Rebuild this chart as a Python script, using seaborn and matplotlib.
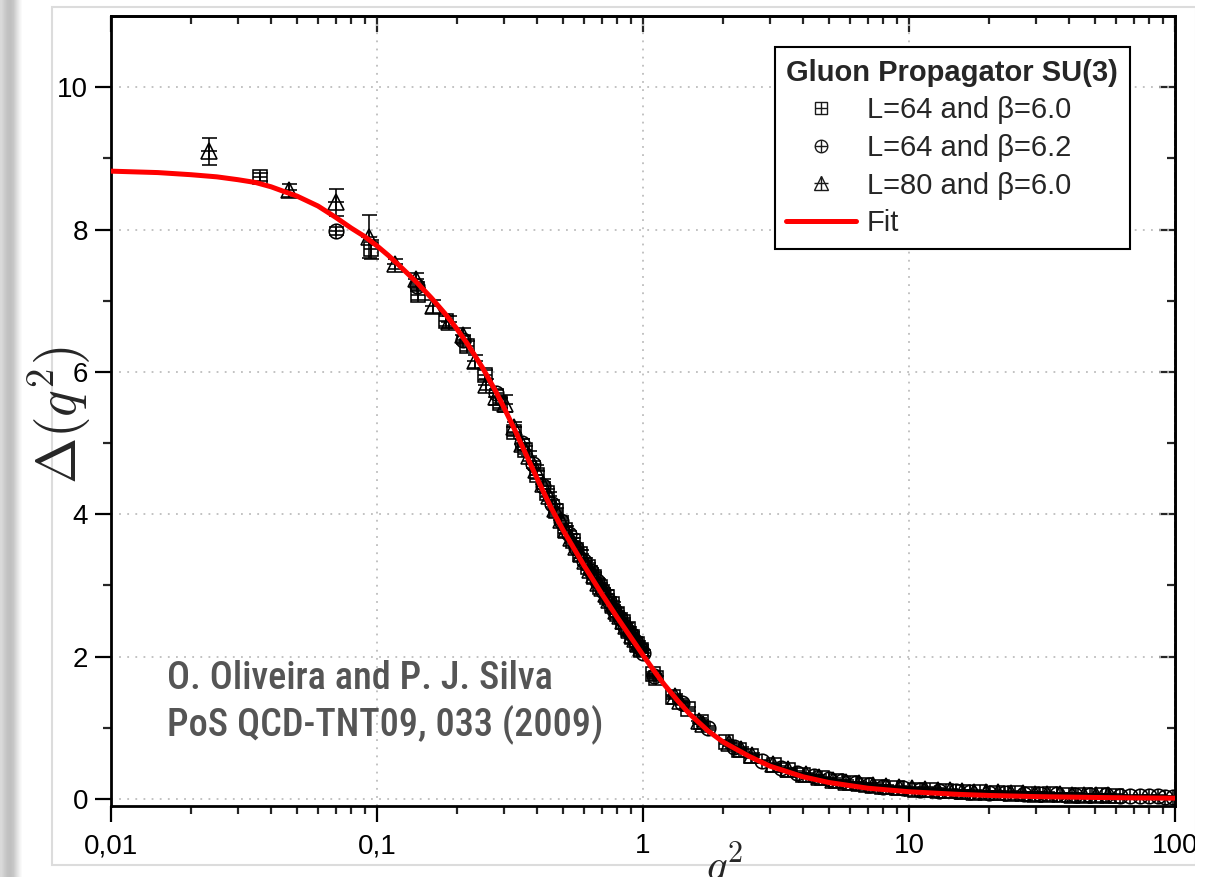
import numpy as np
import pandas as pd
import matplotlib
matplotlib.use("Agg")
import matplotlib.pyplot as plt
import seaborn as sns
from matplotlib.lines import Line2D
from matplotlib.legend_handler import HandlerTuple
from matplotlib.patches import Rectangle
from matplotlib import font_manager
from matplotlib.ticker import NullFormatter, LogLocator

# ---------------- data ----------------
# L=80, beta=6.0 (triangles)
tri_q2 = [0.0233, 0.0466, 0.0700, 0.0933, 0.117, 0.140, 0.163, 0.186, 0.210, 0.233,
          0.256, 0.280, 0.303, 0.326, 0.350, 0.373, 0.396, 0.420, 0.443, 0.466,
          0.490, 0.513, 0.536, 0.560, 0.583, 0.606, 0.630, 0.653, 0.676, 0.700,
          0.723, 0.746, 0.770, 0.793, 0.816, 0.840, 0.863, 0.886, 0.910, 0.933,
          0.956, 0.980, 1.32, 1.38, 1.62, 1.68, 2.10, 2.33, 2.56, 3.08,
          3.50, 4.10, 4.6, 5.2, 5.8, 6.5, 7.3, 8.2, 9.2, 10.3,
          11.5, 12.8, 14.2, 15.8, 17.5, 19.5, 21.7, 24.1, 26.8, 29.8,
          33.1, 36.8, 40.9, 45.4, 50.5, 56.1]
tri_D = [9.10, 8.55, 8.38, 7.90, 7.52, 7.31, 6.92, 6.70, 6.52, 6.15,
         5.82, 5.64, 5.55, 5.22, 4.98, 4.82, 4.62, 4.42, 4.25, 4.08,
         3.92, 3.78, 3.66, 3.54, 3.44, 3.34, 3.22, 3.14, 3.04, 2.96,
         2.88, 2.80, 2.72, 2.64, 2.57, 2.50, 2.43, 2.37, 2.30, 2.24,
         2.18, 2.12, 1.45, 1.38, 1.10, 1.05, 0.78, 0.70, 0.62, 0.49,
         0.42, 0.35, 0.31, 0.27, 0.24, 0.22, 0.20, 0.18, 0.16, 0.15,
         0.14, 0.13, 0.12, 0.11, 0.10, 0.095, 0.09, 0.085, 0.08, 0.075,
         0.07, 0.065, 0.06, 0.055, 0.05, 0.05]
tri_err = [0.19, 0.09, 0.19, 0.30, 0.07, 0.08, 0.09, 0.09, 0.10, 0.09,
           0.08, 0.10, 0.12, 0.08, 0.08, 0.07, 0.07, 0.07, 0.06, 0.06,
           0.06, 0.06, 0.06, 0.05, 0.05, 0.05, 0.05, 0.05, 0.05, 0.05,
           0.05, 0.04, 0.04, 0.04, 0.04, 0.04, 0.04, 0.04, 0.04, 0.04,
           0.04, 0.04, 0.03, 0.03, 0.03, 0.03, 0.03, 0.03, 0.03, 0.02,
           0.02, 0.02, 0.02, 0.02, 0.02, 0.02, 0.02, 0.02, 0.02, 0.02,
           0.02, 0.02, 0.02, 0.02, 0.02, 0.02, 0.02, 0.02, 0.02, 0.02,
           0.02, 0.02, 0.02, 0.02, 0.02, 0.02]

# L=64, beta=6.0 (squares)
sq_q2 = [0.0364, 0.0946, 0.143, 0.182, 0.218, 0.255, 0.29, 0.327, 0.36, 0.40,
         0.436, 0.47, 0.51, 0.545, 0.58, 0.62, 0.655, 0.69, 0.73, 0.764,
         0.80, 0.84, 0.875, 0.91, 0.95, 0.985, 1.09, 1.12, 1.30, 1.47,
         1.65, 2.05, 2.30, 2.55, 3.1, 3.5, 4.0, 4.7, 5.3, 6.0,
         6.9, 7.9, 9.0, 10.5, 12.0, 13.8, 16.0, 18.5, 21.5, 25.0,
         29.0, 34.0, 40.0, 46.0, 53.0, 60.0]
sq_D = [8.74, 7.72, 7.08, 6.72, 6.36, 5.95, 5.56, 5.16, 4.90, 4.55,
        4.30, 4.04, 3.78, 3.62, 3.44, 3.26, 3.12, 2.98, 2.84, 2.74,
        2.60, 2.48, 2.38, 2.28, 2.18, 2.09, 1.75, 1.70, 1.43, 1.26,
        1.08, 0.80, 0.68, 0.60, 0.47, 0.40, 0.34, 0.29, 0.25, 0.22,
        0.19, 0.17, 0.15, 0.13, 0.12, 0.11, 0.10, 0.09, 0.085, 0.08,
        0.07, 0.065, 0.06, 0.055, 0.05, 0.045]
sq_err = [0.06, 0.13, 0.07, 0.07, 0.07, 0.07, 0.07, 0.06, 0.06, 0.06,
          0.06, 0.05, 0.05, 0.05, 0.05, 0.05, 0.05, 0.05, 0.04, 0.04,
          0.04, 0.04, 0.04, 0.04, 0.04, 0.04, 0.03, 0.03, 0.03, 0.03,
          0.03, 0.03, 0.03, 0.03, 0.02, 0.02, 0.02, 0.02, 0.02, 0.02,
          0.02, 0.02, 0.02, 0.02, 0.02, 0.02, 0.02, 0.02, 0.02, 0.02,
          0.02, 0.02, 0.02, 0.02, 0.02, 0.02]

# L=64, beta=6.2 (circles)
ci_q2 = [0.0703, 0.141, 0.211, 0.28, 0.35, 0.385, 0.42, 0.455, 0.49, 0.525,
         0.56, 0.60, 0.635, 0.67, 0.71, 0.745, 0.78, 0.82, 0.855, 0.89,
         0.93, 0.965, 1.0, 1.10, 1.40, 1.75, 2.2, 2.8, 3.3, 3.8,
         4.4, 5.0, 5.6, 6.3, 7.1, 8.0, 9.5, 11.0, 13.0, 15.0,
         17.0, 20.0, 23.0, 27.0, 31.0, 36.0, 42.0, 48.0, 55.0, 62.0,
         68.0, 74.0, 80.0, 86.0, 92.0, 98.0]
ci_D = [7.98, 7.20, 6.45, 5.70, 5.00, 4.70, 4.40, 4.15, 3.90, 3.72,
        3.52, 3.34, 3.20, 3.06, 2.92, 2.78, 2.66, 2.54, 2.42, 2.33,
        2.22, 2.13, 2.05, 1.73, 1.35, 1.00, 0.73, 0.53, 0.44, 0.37,
        0.32, 0.28, 0.25, 0.22, 0.20, 0.17, 0.15, 0.13, 0.115, 0.105,
        0.095, 0.085, 0.08, 0.075, 0.07, 0.065, 0.06, 0.055, 0.05, 0.045,
        0.04, 0.04, 0.035, 0.035, 0.03, 0.03]
ci_err = [0.06, 0.06, 0.06, 0.06, 0.06, 0.05, 0.05, 0.05, 0.05, 0.05,
          0.05, 0.05, 0.05, 0.04, 0.04, 0.04, 0.04, 0.04, 0.04, 0.04,
          0.04, 0.04, 0.04, 0.03, 0.03, 0.03, 0.03, 0.02, 0.02, 0.02,
          0.02, 0.02, 0.02, 0.02, 0.02, 0.02, 0.02, 0.02, 0.02, 0.02,
          0.02, 0.02, 0.02, 0.02, 0.02, 0.02, 0.02, 0.02, 0.02, 0.015,
          0.015, 0.015, 0.015, 0.015, 0.015, 0.015]

# Fit curve
fit_q2 = [0.01, 0.015, 0.02, 0.025, 0.03, 0.035, 0.04, 0.045, 0.05, 0.06,
          0.07, 0.08, 0.09, 0.1, 0.11, 0.12, 0.14, 0.16, 0.18, 0.2,
          0.22, 0.25, 0.28, 0.3, 0.33, 0.35, 0.4, 0.45, 0.5, 0.6,
          0.7, 0.8, 0.9, 1.0, 1.1, 1.2, 1.35, 1.5, 1.75, 2.0,
          2.5, 3.0, 4.0, 5.0, 7.0, 10.0, 15.0, 20.0, 30.0, 50.0,
          70.0, 100.0]
fit_D = [8.82, 8.80, 8.77, 8.74, 8.70, 8.66, 8.60, 8.53, 8.47, 8.33,
         8.17, 8.02, 7.90, 7.77, 7.64, 7.51, 7.27, 7.04, 6.82, 6.60,
         6.38, 6.05, 5.72, 5.50, 5.18, 4.97, 4.50, 4.10, 3.78, 3.28,
         2.88, 2.55, 2.27, 2.02, 1.80, 1.61, 1.38, 1.19, 0.96, 0.80,
         0.60, 0.46, 0.31, 0.23, 0.15, 0.10, 0.065, 0.048, 0.032, 0.02,
         0.014, 0.01]

series_labels = ["L=64 and β=6.0", "L=64 and β=6.2", "L=80 and β=6.0"]
fit_label = "Fit"
legend_title = "Gluon Propagator SU(3)"
x_ticks = [0.01, 0.1, 1, 10, 100]
x_tick_labels = ["0,01", "0,1", "1", "10", "100"]
y_ticks = [0, 2, 4, 6, 8, 10]
y_minor = [1, 3, 5, 7, 9]
note_lines = ["O. Oliveira and P. J. Silva", "PoS QCD-TNT09, 033 (2009)"]

# ---------------- style ----------------
sns.set_theme(style="ticks")
plt.rcParams['font.family'] = ['Liberation Sans', 'DejaVu Sans']
plt.rcParams['mathtext.fontset'] = 'cm'

W, H = 1228, 877
fig = plt.figure(figsize=(W / 100, H / 100), dpi=100)
fig.patch.set_facecolor('white')

# page decorations: left shadow band and thin frame
band = fig.add_axes([0, 0, 24 / W, 1], zorder=-5)
grad = np.array([[0.85, 0.80, 0.76, 0.75, 0.78, 0.86, 0.94, 1.0]])
band.imshow(grad, cmap='gray', vmin=0, vmax=1, aspect='auto', interpolation='bilinear')
band.set_axis_off()
fig.patches.append(Rectangle((52 / W, 1 - 865 / H), (1196 - 52) / W, (865 - 7) / H,
                             transform=fig.transFigure, fill=False,
                             ec='#dcdcdc', lw=1.5, zorder=-4))

x0, x1, ytop, ybot = 111, 1175, 16, 806
ax = fig.add_axes([x0 / W, 1 - ybot / H, (x1 - x0) / W, (ybot - ytop) / H])
ax.set_facecolor('white')
ax.set_xscale('log')
ax.set_xlim(0.01, 100)
ax.set_ylim(-0.1, 11)

ax.grid(True, which='major', ls=(0, (1, 3.5)), color='#bdbdbd', lw=1.3)
ax.set_axisbelow(True)

ms = 10.5
mew = 1.15
specs = [(sq_q2, sq_D, sq_err, 's', ms - 0.5), (ci_q2, ci_D, ci_err, 'o', ms),
         (tri_q2, tri_D, tri_err, '^', ms + 0.5)]
for q, d, e, mk, m in specs:
    ax.errorbar(q, d, yerr=e, fmt='none', ecolor='black', elinewidth=mew,
                capsize=5.4, capthick=mew, zorder=2)
    ax.plot(q, d, ls='none', marker=mk, ms=m, mfc='none', mec='black', mew=mew, zorder=3)
    ax.plot(q, d, ls='none', marker='+', ms=m, color='black', mew=mew, zorder=3)

fit_df = pd.DataFrame({"q2": fit_q2, "D": fit_D})
sns.lineplot(data=fit_df, x="q2", y="D", color='#ff0000', lw=3.6, ax=ax, zorder=5,
             estimator=None, sort=True, legend=False)

# ticks
ax.set_xticks(x_ticks)
ax.set_xticklabels(x_tick_labels)
ax.set_yticks(y_ticks)
ax.set_yticks(y_minor, minor=True)
ax.xaxis.set_minor_locator(LogLocator(base=10, subs=np.arange(2, 10)))
ax.xaxis.set_minor_formatter(NullFormatter())
ax.tick_params(axis='both', which='major', direction='out', length=11.5, width=1.6,
               labelsize=20, colors='black', pad=5, top=False, right=False)
ax.tick_params(axis='both', which='minor', direction='out', length=6, width=1.6,
               top=False, right=False)
ax.tick_params(axis='x', which='major', pad=8)
for s in ax.spines.values():
    s.set_linewidth(2.0)
    s.set_color('black')

secx = ax.secondary_xaxis('top')
secx.set_xticks(x_ticks)
secx.xaxis.set_minor_locator(LogLocator(base=10, subs=np.arange(2, 10)))
secx.xaxis.set_major_formatter(NullFormatter())
secx.xaxis.set_minor_formatter(NullFormatter())
secx.tick_params(which='major', direction='in', length=11.5, width=1.6)
secx.tick_params(which='minor', direction='in', length=6, width=1.6)
secx.spines['top'].set_linewidth(2.0)

secy = ax.secondary_yaxis('right')
secy.set_yticks(y_ticks)
secy.set_yticks(y_minor, minor=True)
secy.yaxis.set_major_formatter(NullFormatter())
secy.tick_params(which='major', direction='in', length=11.5, width=1.6)
secy.tick_params(which='minor', direction='in', length=6, width=1.6)
secy.spines['right'].set_linewidth(2.0)

# axis labels
ax.set_xlabel(r'$q^2$', fontsize=31)
ax.xaxis.set_label_coords(0.577, -0.075)
ax.xaxis.label.set_verticalalignment('center')
ax.set_ylabel(r'$\Delta(q^2)$', fontsize=40)
ax.yaxis.set_label_coords(-0.048, 0.495)
ax.yaxis.label.set_verticalalignment('center')

# legend
def combo(mk, size):
    return (Line2D([], [], ls='none', marker=mk, ms=size, mfc='none', mec='k', mew=1.0),
            Line2D([], [], ls='none', marker='+', ms=size, color='k', mew=1.0))

h_fit = Line2D([], [], color='#ff0000', lw=3.6)
leg = ax.legend([combo('s', 8), combo('o', 9), combo('^', 10), h_fit],
                series_labels + [fit_label],
                handler_map={tuple: HandlerTuple(ndivide=1, pad=0)},
                title=legend_title, title_fontproperties={'weight': 'bold', 'size': 21},
                fontsize=21, loc='upper right', bbox_to_anchor=(0.9577, 0.9608),
                borderaxespad=0, frameon=True, fancybox=False, framealpha=1,
                edgecolor='black', handlelength=2.4, handletextpad=0.35,
                labelspacing=0.33, borderpad=0.4)
leg._legend_box.align = "left"
leg.get_frame().set_linewidth(1.5)
leg.set_zorder(10)

# citation note in a condensed face if available
names = {f.name for f in font_manager.fontManager.ttflist}
cond = [f for f in font_manager.fontManager.ttflist
        if f.name == 'DejaVu Sans' and 'condensed' in str(f.stretch)]
if 'Liberation Sans Narrow' in names:
    nfam, nstretch, nsize = 'Liberation Sans Narrow', 'normal', 29
elif 'Roboto Condensed' in names:
    nfam, nstretch, nsize = 'Roboto Condensed', 'normal', 27.5
elif cond:
    nfam, nstretch, nsize = 'DejaVu Sans', 'condensed', 24
else:
    nfam, nstretch, nsize = 'Liberation Sans', 'normal', 24
ax.text(0.0526, 0.185, "\n".join(note_lines), transform=ax.transAxes,
        ha='left', va='top', color='#555555', fontsize=nsize, family=nfam,
        fontstretch=nstretch, fontweight='medium', linespacing=1.24, zorder=6)

# right-hand clipping of the page
fig.patches.append(Rectangle((1195 / W, 0), (W - 1195) / W, 1, transform=fig.transFigure,
                             fc='white', ec='none', zorder=20))

fig.savefig('out.png', dpi=100)
